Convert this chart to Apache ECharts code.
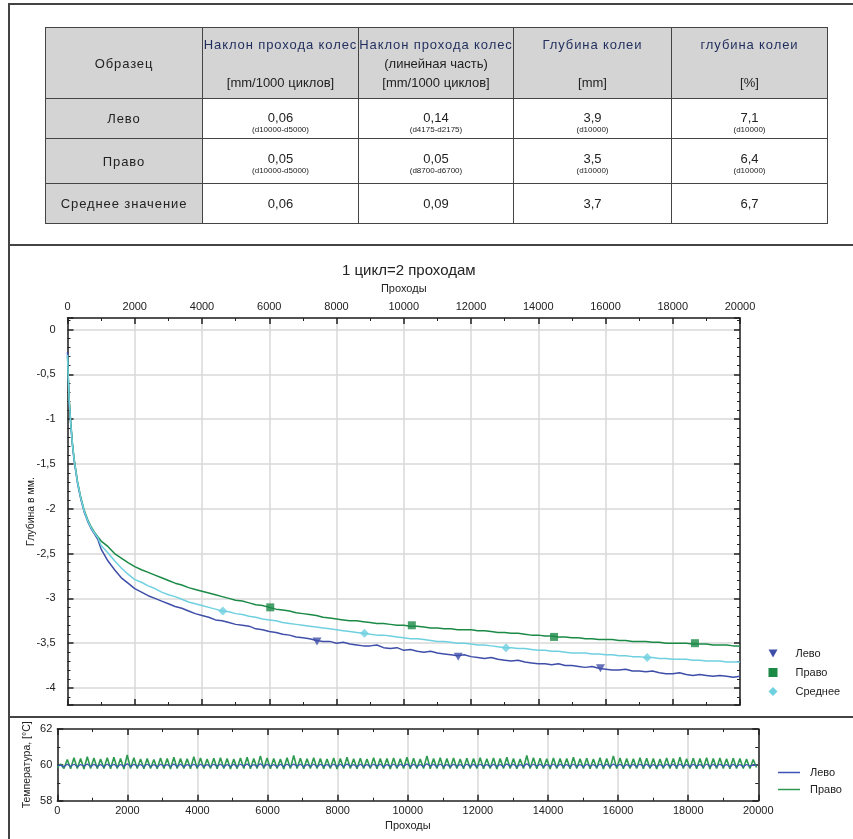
<!DOCTYPE html>
<html><head><meta charset="utf-8">
<script src="https://cdn.jsdelivr.net/npm/echarts@6/dist/echarts.min.js"></script>
<style>
html,body{margin:0;padding:0;background:#fff;}
body{width:853px;height:839px;position:relative;overflow:hidden;font-family:"Liberation Sans",Arial,sans-serif;}
#chart{position:absolute;left:0;top:0;width:853px;height:839px;}
.ln{position:absolute;background:#444;}
table{position:absolute;left:45px;top:27px;border-collapse:collapse;table-layout:fixed;font-size:13px;color:#222;}
td{border:1.5px solid #444;text-align:center;padding:0;vertical-align:middle;}
td.g{background:#d4d4d4;}
.h1{color:#1f2d5c;line-height:19px;height:19px;white-space:nowrap;letter-spacing:0.9px;}
.hl{line-height:19px;height:19px;white-space:nowrap;}
.cy{letter-spacing:0.9px;}
.v{line-height:14px;}
.s{font-size:8px;line-height:9px;}
td.d{vertical-align:top;}
</style>
</head><body>
<div id="chart"></div>
<div class="ln" style="left:8px;top:3px;width:845px;height:1.5px"></div>
<div class="ln" style="left:8px;top:3px;width:1.5px;height:836px"></div>
<div class="ln" style="left:8px;top:244px;width:845px;height:1.5px"></div>
<div class="ln" style="left:8px;top:716px;width:845px;height:1.5px"></div>
<table id="tbl">
<colgroup><col style="width:157px"><col style="width:156px"><col style="width:155px"><col style="width:158px"><col style="width:156px"></colgroup>
<tbody id="tb"></tbody>
</table>
<script>
// ---------- table data ----------
const tableHead = [
  ["Образец"],
  ["Наклон прохода колес", "", "[mm/1000 циклов]"],
  ["Наклон прохода колес", "(линейная часть)", "[mm/1000 циклов]"],
  ["Глубина колеи", "", "[mm]"],
  ["глубина колеи", "", "[%]"]
];
const rowLabels = ["Лево", "Право", "Среднее значение"];
const rowValues = [
  ["0,06", "0,14", "3,9", "7,1"],
  ["0,05", "0,05", "3,5", "6,4"],
  ["0,06", "0,09", "3,7", "6,7"]
];
const rowNotes = [
  ["(d10000-d5000)", "(d4175-d2175)", "(d10000)", "(d10000)"],
  ["(d10000-d5000)", "(d8700-d6700)", "(d10000)", "(d10000)"],
  ["", "", "", ""]
];

// ---------- main chart data ----------
const passes = [0,20,50,100,150,200,300,400,500,600,700,800,900,
 1000,1200,1400,1600,1800, 2000,2200,2400,2600,2800, 3000,3200,3400,3600,3800,
 4000,4200,4400,4600,4800, 5000,5200,5400,5600,5800, 6000,6200,6400,6600,6800,
 7000,7200,7400,7600,7800, 8000,8200,8400,8600,8800, 9000,9200,9400,9600,9800,
 10000,10200,10400,10600,10800, 11000,11200,11400,11600,11800, 12000,12200,12400,12600,12800,
 13000,13200,13400,13600,13800, 14000,14200,14400,14600,14800, 15000,15200,15400,15600,15800,
 16000,16200,16400,16600,16800, 17000,17200,17400,17600,17800, 18000,18200,18400,18600,18800,
 19000,19200,19400,19600,19800, 20000];

const levo = [-0.25,-0.50,-0.80,-1.08,-1.30,-1.47,-1.72,-1.90,-2.04,-2.14,-2.22,-2.28,-2.34,
 -2.45,-2.58,-2.68,-2.77,-2.83, -2.89,-2.93,-2.97,-3.00,-3.03, -3.06,-3.09,-3.11,-3.14,-3.17,
 -3.19,-3.21,-3.24,-3.25,-3.27, -3.29,-3.30,-3.31,-3.34,-3.35, -3.37,-3.38,-3.40,-3.41,-3.43,
 -3.44,-3.45,-3.47,-3.48,-3.48, -3.50,-3.49,-3.51,-3.52,-3.53, -3.53,-3.52,-3.55,-3.56,-3.55,
 -3.58,-3.57,-3.59,-3.60,-3.59, -3.61,-3.62,-3.63,-3.64,-3.63, -3.65,-3.66,-3.67,-3.66,-3.68,
 -3.69,-3.70,-3.69,-3.71,-3.72, -3.73,-3.73,-3.74,-3.73,-3.75, -3.75,-3.76,-3.77,-3.76,-3.78,
 -3.79,-3.80,-3.80,-3.79,-3.81, -3.81,-3.82,-3.81,-3.83,-3.84, -3.84,-3.83,-3.85,-3.86,-3.85,
 -3.86,-3.87,-3.86,-3.87,-3.88, -3.87];

const pravo = [-0.30,-0.50,-0.78,-1.05,-1.28,-1.45,-1.70,-1.88,-2.02,-2.12,-2.20,-2.26,-2.31,
 -2.36,-2.42,-2.50,-2.55,-2.60, -2.645,-2.68,-2.71,-2.74,-2.77, -2.80,-2.83,-2.85,-2.88,-2.90,
 -2.92,-2.94,-2.96,-2.98,-3.00, -3.02,-3.03,-3.05,-3.07,-3.08, -3.10,-3.12,-3.13,-3.14,-3.16,
 -3.17,-3.18,-3.19,-3.21,-3.22, -3.23,-3.24,-3.25,-3.25,-3.26, -3.27,-3.28,-3.28,-3.29,-3.30,
 -3.30,-3.31,-3.31,-3.32,-3.33, -3.33,-3.34,-3.34,-3.35,-3.35, -3.35,-3.36,-3.36,-3.37,-3.38,
 -3.38,-3.39,-3.39,-3.40,-3.41, -3.41,-3.42,-3.42,-3.43,-3.43, -3.44,-3.44,-3.45,-3.45,-3.46,
 -3.46,-3.46,-3.47,-3.47,-3.48, -3.48,-3.48,-3.49,-3.49,-3.50, -3.50,-3.50,-3.50,-3.51,-3.51,
 -3.51,-3.52,-3.52,-3.52,-3.53, -3.53];

const sredn = [-0.28,-0.50,-0.79,-1.07,-1.29,-1.46,-1.71,-1.89,-2.03,-2.13,-2.21,-2.27,-2.32,
 -2.41,-2.49,-2.58,-2.66,-2.73, -2.79,-2.82,-2.86,-2.89,-2.93, -2.96,-2.98,-3.01,-3.04,-3.06,
 -3.08,-3.10,-3.12,-3.14,-3.15, -3.17,-3.18,-3.20,-3.21,-3.23, -3.24,-3.25,-3.27,-3.28,-3.29,
 -3.30,-3.31,-3.32,-3.33,-3.34, -3.35,-3.36,-3.37,-3.38,-3.39, -3.40,-3.41,-3.41,-3.42,-3.43,
 -3.44,-3.45,-3.45,-3.46,-3.47, -3.48,-3.48,-3.49,-3.50,-3.50, -3.51,-3.52,-3.52,-3.53,-3.54,
 -3.55,-3.55,-3.56,-3.56,-3.57, -3.58,-3.58,-3.59,-3.59,-3.60, -3.61,-3.61,-3.61,-3.62,-3.62,
 -3.63,-3.63,-3.64,-3.64,-3.65, -3.65,-3.66,-3.66,-3.67,-3.67, -3.68,-3.68,-3.68,-3.69,-3.69,
 -3.70,-3.70,-3.70,-3.71,-3.71, -3.71];

const levoMarkX = [7420, 11620, 15850];
const levoMarkY = [-3.48, -3.65, -3.78];
const pravoMarkX = [6030, 10240, 14470, 18660];
const pravoMarkY = [-3.10, -3.30, -3.43, -3.50];
const srednMarkX = [4620, 8830, 13040, 17240];
const srednMarkY = [-3.14, -3.39, -3.55, -3.66];

// ---------- temperature data (sample every tempStep passes) ----------
const tempStep = 95;
const tempPravo = [
59.85,60.05,59.8,60.3,59.78,60.4,59.8,60.35,59.77,60.45,
59.8,60.38,59.79,60.32,59.8,60.4,59.78,60.42,59.8,60.35,
59.77,60.55,59.8,60.4,59.79,60.33,59.78,60.36,59.8,60.3,
59.78,60.38,59.8,60.35,59.77,60.42,59.79,60.36,59.8,60.34,
59.78,60.45,59.8,60.38,59.79,60.33,59.8,60.37,59.78,60.4,
59.8,60.35,59.77,60.32,59.79,60.38,59.8,60.42,59.78,60.36,
59.8,60.5,59.79,60.38,59.78,60.35,59.8,60.33,59.77,60.4,
59.79,60.52,59.8,60.37,59.78,60.34,59.8,60.4,59.79,60.36,
59.78,60.33,59.8,60.38,59.77,60.35,59.79,60.42,59.8,60.34,
59.78,60.37,59.8,60.33,59.79,60.4,59.78,60.36,59.8,60.35,
59.77,60.38,59.79,60.34,59.8,60.42,59.78,60.37,59.8,60.33,
59.79,60.5,59.78,60.36,59.8,60.4,59.77,60.35,59.79,60.38,
59.8,60.33,59.78,60.37,59.8,60.35,59.79,60.4,59.78,60.34,
59.8,60.38,59.77,60.36,59.79,60.42,59.8,60.35,59.78,60.33,
59.8,60.52,59.79,60.4,59.78,60.37,59.8,60.34,59.77,60.38,
59.79,60.36,59.8,60.35,59.78,60.42,59.8,60.34,59.79,60.37,
59.78,60.33,59.8,60.4,59.77,60.35,59.79,60.5,59.8,60.38,
59.78,60.36,59.8,60.34,59.79,60.4,59.78,60.37,59.8,60.35,
59.77,60.33,59.79,60.38,59.8,60.36,59.78,60.42,59.8,60.34,
59.79,60.37,59.78,60.35,59.8,60.4,59.77,60.36,59.79,60.38,
59.8,60.34,59.78,60.37,59.8,60.35,59.79,60.33,59.8,60.3,
59.85];
const tempLevo = [
59.95,59.98,59.9,60.03,59.91,60.04,59.9,60.02,59.92,60.05,
59.9,60.03,59.91,60.02,59.9,60.04,59.92,60.03,59.9,60.02,
59.91,60.06,59.9,60.03,59.92,60.02,59.9,60.04,59.91,60.02,
59.9,60.03,59.92,60.02,59.9,60.05,59.91,60.03,59.9,60.02,
59.92,60.04,59.9,60.03,59.91,60.02,59.9,60.04,59.92,60.03,
59.9,60.02,59.91,60.03,59.9,60.04,59.92,60.05,59.9,60.02,
59.91,60.06,59.9,60.03,59.92,60.02,59.9,60.03,59.91,60.04,
59.9,60.05,59.92,60.03,59.9,60.02,59.91,60.04,59.9,60.03,
59.92,60.02,59.9,60.04,59.91,60.03,59.9,60.05,59.92,60.02,
59.9,60.03,59.91,60.02,59.9,60.04,59.92,60.03,59.9,60.02,
59.91,60.04,59.9,60.03,59.92,60.05,59.9,60.03,59.91,60.02,
59.9,60.06,59.92,60.03,59.9,60.04,59.91,60.02,59.9,60.03,
59.92,60.02,59.9,60.04,59.91,60.03,59.9,60.04,59.92,60.02,
59.9,60.03,59.91,60.02,59.9,60.05,59.92,60.03,59.9,60.02,
59.91,60.06,59.9,60.04,59.92,60.03,59.9,60.02,59.91,60.04,
59.9,60.03,59.92,60.02,59.9,60.04,59.91,60.02,59.9,60.03,
59.92,60.02,59.9,60.04,59.91,60.03,59.9,60.05,59.92,60.03,
59.9,60.02,59.91,60.03,59.9,60.04,59.92,60.03,59.9,60.02,
59.91,60.02,59.9,60.03,59.92,60.03,59.9,60.04,59.91,60.02,
59.9,60.03,59.92,60.02,59.9,60.04,59.91,60.03,59.9,60.04,
59.92,60.02,59.9,60.03,59.91,60.02,59.9,60.02,59.92,60.0,
59.98];

// ---------- build table ----------
(function(){
  const tb = document.getElementById('tb');
  let html = '<tr style="height:71px">';
  tableHead.forEach((h, i) => {
    if (i === 0) html += '<td class="g cy">' + h[0] + '</td>';
    else html += '<td class="g"><div class="h1">' + h[0] + '</div><div class="hl">' + h[1] + '</div><div class="hl">' + h[2] + '</div></td>';
  });
  html += '</tr>';
  const heights = [40, 45, 40];
  const pads = [12, 13, 13];
  rowLabels.forEach((lab, r) => {
    html += '<tr style="height:' + heights[r] + 'px"><td class="g cy">' + lab + '</td>';
    rowValues[r].forEach((v, c) => {
      html += '<td class="d" style="padding-top:' + pads[r] + 'px"><div class="v">' + v + '</div>' +
        (rowNotes[r][c] ? '<div class="s">' + rowNotes[r][c] + '</div>' : '') + '</td>';
    });
    html += '</tr>';
  });
  tb.innerHTML = html;
})();

// ---------- chart ----------
const C_LEVO = '#3f4ea8', C_PRAVO = '#1b8a47', C_SRED = '#6fd0e0';
const C_TLEVO = '#3c52b5', C_TPRAVO = '#2e9a50';
const FONT = 'Liberation Sans';
const triDown = 'path://M0,0L10,0L5,9Z';
const pair = (xs, ys) => xs.map((x, i) => [x, ys[i]]);
const tempPairs = ys => ys.map((v, i) => [i * tempStep, v]);
const comma = v => String(v).replace('.', ',');
const plain = v => String(v);

const axLine = {show: true, onZero: false, lineStyle: {color: '#222', width: 1.5}};
const tick = {show: true, inside: true, length: 6, lineStyle: {color: '#222', width: 1.5}};
const minor = n => ({show: true, splitNumber: n, length: 3, lineStyle: {color: '#222', width: 1}});
const lab = {fontFamily: FONT, fontSize: 11, color: '#222'};
const grid1 = {left: 67.5, top: 318, width: 672.5, height: 387};
const grid2 = {left: 57.3, top: 729, width: 701, height: 71.7};

const chart = echarts.init(document.getElementById('chart'), null, {renderer: 'canvas'});
chart.setOption({
  animation: false,
  backgroundColor: 'transparent',
  title: {text: '1 цикл=2 проходам', left: 403.75, textAlign: 'center', top: 258,
    textStyle: {fontFamily: FONT, fontSize: 15, fontWeight: 'normal', color: '#222'}},
  grid: [grid1, grid2],
  legend: [
    {orient: 'vertical', left: 768.5, top: 648, padding: 0, itemWidth: 9, itemHeight: 9, itemGap: 8,
     textStyle: Object.assign({}, lab, {padding: [0, 0, 0, 13]}),
     data: [{name: 'Лево', icon: triDown}, {name: 'Право', icon: 'rect'}, {name: 'Среднее', icon: 'diamond'}]},
    {orient: 'vertical', left: 778, top: 767, padding: 0, itemWidth: 22, itemHeight: 1.5, itemGap: 6,
     textStyle: Object.assign({}, lab, {padding: [0, 0, 0, 5]}),
     formatter: n => n.trim(),
     data: [{name: 'Лево ', icon: 'rect'}, {name: 'Право ', icon: 'rect'}]}
  ],
  xAxis: [
    {gridIndex: 0, type: 'value', position: 'top', min: 0, max: 20000, interval: 2000,
     name: 'Проходы', nameLocation: 'middle', nameGap: 24, nameTextStyle: lab,
     axisLine: axLine, axisTick: tick, minorTick: minor(2),
     axisLabel: Object.assign({margin: 6, formatter: plain}, lab),
     splitLine: {show: true, lineStyle: {color: '#d8d8d8', width: 1.5}}},
    {gridIndex: 0, type: 'value', position: 'bottom', min: 0, max: 20000, interval: 2000,
     axisLine: axLine, axisTick: tick, minorTick: minor(2), axisLabel: {show: false}, splitLine: {show: false}},
    {gridIndex: 1, type: 'value', position: 'bottom', min: 0, max: 20000, interval: 2000,
     name: 'Проходы', nameLocation: 'middle', nameGap: 20, nameTextStyle: lab,
     axisLine: axLine, axisTick: tick, minorTick: minor(2),
     axisLabel: Object.assign({margin: 5, formatter: plain}, lab),
     splitLine: {show: true, lineStyle: {color: '#d8d8d8', width: 1.5}}},
    {gridIndex: 1, type: 'value', position: 'top', min: 0, max: 20000, interval: 2000,
     axisLine: axLine, axisTick: tick, minorTick: minor(2), axisLabel: {show: false}, splitLine: {show: false}}
  ],
  yAxis: [
    {gridIndex: 0, type: 'value', position: 'left', min: -4.19, max: 0.13, splitNumber: 9,
     name: 'Глубина в мм.', nameLocation: 'middle', nameGap: 31, nameMoveOverlap: false,
     nameTextStyle: Object.assign({}, lab, {fontSize: 10.5}),
     axisLine: axLine, axisTick: tick, minorTick: minor(5),
     axisLabel: Object.assign({margin: 12, showMinLabel: false, showMaxLabel: false, formatter: comma}, lab),
     splitLine: {show: true, lineStyle: {color: '#d8d8d8', width: 1.5}}},
    {gridIndex: 0, type: 'value', position: 'right', min: -4.19, max: 0.13, splitNumber: 9,
     axisLine: axLine, axisTick: tick, minorTick: minor(5), axisLabel: {show: false}, splitLine: {show: false}},
    {gridIndex: 1, type: 'value', position: 'left', min: 58, max: 62, interval: 2,
     name: 'Температура, [°C]', nameLocation: 'middle', nameGap: 25, nameMoveOverlap: false,
     nameTextStyle: Object.assign({}, lab, {fontSize: 10.5}),
     axisLine: axLine, axisTick: tick, minorTick: minor(2),
     axisLabel: Object.assign({margin: 5, formatter: plain}, lab), splitLine: {show: false}},
    {gridIndex: 1, type: 'value', position: 'right', min: 58, max: 62, interval: 2,
     axisLine: axLine, axisTick: tick, minorTick: minor(2), axisLabel: {show: false}, splitLine: {show: false}}
  ],
  series: [
    {name: 'Лево', type: 'line', xAxisIndex: 0, yAxisIndex: 0, data: pair(passes, levo), showSymbol: false,
     color: C_LEVO, lineStyle: {width: 1.5}},
    {name: 'Право', type: 'line', xAxisIndex: 0, yAxisIndex: 0, data: pair(passes, pravo), showSymbol: false,
     color: C_PRAVO, lineStyle: {width: 1.5}},
    {name: 'Среднее', type: 'line', xAxisIndex: 0, yAxisIndex: 0, data: pair(passes, sredn), showSymbol: false,
     color: C_SRED, lineStyle: {width: 1.5}},
    {name: 'Лево', type: 'scatter', xAxisIndex: 0, yAxisIndex: 0, data: pair(levoMarkX, levoMarkY),
     symbol: triDown, symbolSize: [9, 8], color: C_LEVO, z: 5},
    {name: 'Право', type: 'scatter', xAxisIndex: 0, yAxisIndex: 0, data: pair(pravoMarkX, pravoMarkY),
     symbol: 'rect', symbolSize: 8, color: C_PRAVO, z: 5},
    {name: 'Среднее', type: 'scatter', xAxisIndex: 0, yAxisIndex: 0, data: pair(srednMarkX, srednMarkY),
     symbol: 'diamond', symbolSize: 9, color: C_SRED, z: 5},
    {name: 'Право ', type: 'line', xAxisIndex: 2, yAxisIndex: 2, data: tempPairs(tempPravo), showSymbol: false,
     color: C_TPRAVO, lineStyle: {width: 1.6}},
    {name: 'Лево ', type: 'line', xAxisIndex: 2, yAxisIndex: 2, data: tempPairs(tempLevo), showSymbol: false,
     color: C_TLEVO, lineStyle: {width: 1.2}, z: 3}
  ]
});
</script>
</body></html>
